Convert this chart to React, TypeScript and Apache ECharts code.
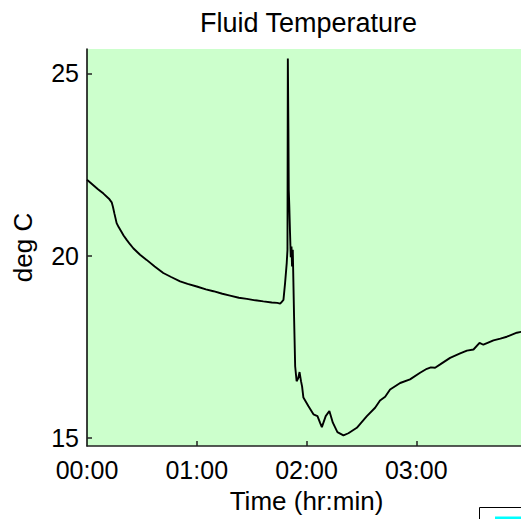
import React, { useEffect, useRef } from "react";
import * as echarts from "echarts";

// Elapsed time in minutes and fluid temperature in deg C
const minutes: number[] = [
  0, 3, 6, 9, 12, 13.5, 14.2, 15, 15.6, 16.2, 17.3, 18.5, 20, 21.7, 23.5, 25.3, 29, 32.6, 37,
  41.7, 46, 50.9, 55, 60, 65, 69.1, 74, 78.2, 83, 87.4, 92, 96.4, 101, 104, 105.6, 106.5, 107.4,
  108.3, 109.2, 109.6, 109.8, 110.1, 110.3, 110.6, 111.0, 111.4, 111.8, 112.1, 112.5, 113.2,
  113.8, 114.6, 115.4, 116.2, 117.0, 117.6, 118.3, 121.0, 123.8, 126.0, 127.5, 128.4, 130.5,
  132.5, 134.4, 136.9, 140.2, 142.9, 147.5, 153.0, 157.5, 160.2, 163.0, 165.7, 171.2, 176.6,
  182.1, 185.8, 188, 190.3, 193.1, 198.5, 204.0, 207.7, 211.3, 214.6, 216.7, 219, 222.2, 226,
  229.5, 235.0, 240,
];
const tempC: number[] = [
  22.08, 21.95, 21.82, 21.7, 21.56, 21.46, 21.33, 21.15, 21.02, 20.89, 20.78, 20.68, 20.55,
  20.43, 20.31, 20.2, 20.02, 19.88, 19.7, 19.52, 19.41, 19.29, 19.22, 19.15, 19.07, 19.02,
  18.95, 18.9, 18.84, 18.81, 18.77, 18.74, 18.71, 18.7, 18.68, 18.73, 18.78, 19.25, 19.8, 20.16,
  25.41, 23.5, 21.8, 21.35, 20.62, 19.95, 20.25, 19.7, 20.16, 18.33, 16.96, 16.55, 16.62, 16.8,
  16.55, 16.4, 16.1, 15.87, 15.64, 15.59, 15.4, 15.29, 15.59, 15.73, 15.41, 15.15, 15.06,
  15.12, 15.27, 15.59, 15.82, 16.02, 16.12, 16.32, 16.5, 16.6, 16.78, 16.89, 16.93, 16.92,
  17.01, 17.19, 17.31, 17.39, 17.42, 17.6, 17.55, 17.6, 17.67, 17.72, 17.77, 17.88, 17.93,
];

const yTicks: number[] = [15, 20, 25];
const xLabelTicks: number[] = [0, 60, 120, 180];
const xTickMarks: number[] = [60, 120, 180];

const FONT = "'Liberation Sans', Arial, Helvetica, sans-serif";

function hhmm(v: number): string {
  const h = Math.floor(v / 60);
  const m = Math.round(v - h * 60);
  return String(h).padStart(2, "0") + ":" + String(m).padStart(2, "0");
}

export default function App() {
  const ref = useRef<HTMLDivElement>(null);

  useEffect(() => {
    if (!ref.current) return;
    const chart = echarts.init(ref.current, undefined, { renderer: "svg" });
    const points = minutes.map((t, i) => [t, tempC[i]]);

    chart.setOption({
      animation: false,
      backgroundColor: "#ffffff",
      title: {
        text: "Fluid Temperature",
        left: 195,
        top: 4,
        textStyle: { fontFamily: FONT, fontSize: 27, fontWeight: "normal", color: "#000" },
      },
      grid: {
        left: 87,
        top: 49,
        width: 439,
        height: 398,
        show: true,
        backgroundColor: "#ccffcc",
        borderWidth: 0,
      },
      xAxis: {
        type: "value",
        min: 0,
        max: 240,
        name: "Time (hr:min)",
        nameLocation: "middle",
        nameGap: 42,
        nameTextStyle: { fontFamily: FONT, fontSize: 26, color: "#000" },
        axisLine: { show: true, onZero: false, lineStyle: { color: "#222", width: 1.5 } },
        axisTick: {
          show: true,
          inside: true,
          length: 5,
          customValues: xTickMarks,
          lineStyle: { color: "#222", width: 1.5 },
        },
        axisLabel: {
          customValues: xLabelTicks,
          margin: 11,
          fontFamily: FONT,
          fontSize: 25,
          color: "#000",
          formatter: (v: number) => hhmm(v),
        },
        splitLine: { show: false },
      },
      yAxis: {
        type: "value",
        min: 14.77,
        max: 25.67,
        name: "deg C",
        nameLocation: "middle",
        nameGap: 51,
        nameTextStyle: { fontFamily: FONT, fontSize: 26, color: "#000" },
        axisLine: { show: true, onZero: false, lineStyle: { color: "#000", width: 1.5 } },
        axisTick: {
          show: true,
          inside: true,
          length: 5,
          customValues: yTicks,
          lineStyle: { color: "#222", width: 1.5 },
        },
        axisLabel: {
          customValues: yTicks,
          margin: 8,
          fontFamily: FONT,
          fontSize: 25,
          color: "#000",
        },
        splitLine: { show: false },
      },
      series: [
        {
          type: "line",
          data: points,
          showSymbol: false,
          symbol: "none",
          lineStyle: { color: "#000", width: 1.9 },
        },
      ],
      graphic: [
        {
          type: "rect",
          shape: { x: 479.5, y: 507.5, width: 60, height: 30 },
          style: { fill: "#fff", stroke: "#000", lineWidth: 1 },
        },
        {
          type: "line",
          shape: { x1: 495, y1: 518, x2: 540, y2: 518 },
          style: { stroke: "#00ffff", lineWidth: 3 },
        },
      ],
    });

    return () => chart.dispose();
  }, []);

  return (
    <div
      style={{
        position: "fixed",
        left: 0,
        top: 0,
        width: 521,
        height: 519,
        overflow: "hidden",
        background: "#fff",
      }}
    >
      <div ref={ref} style={{ width: 540, height: 519 }} />
    </div>
  );
}
